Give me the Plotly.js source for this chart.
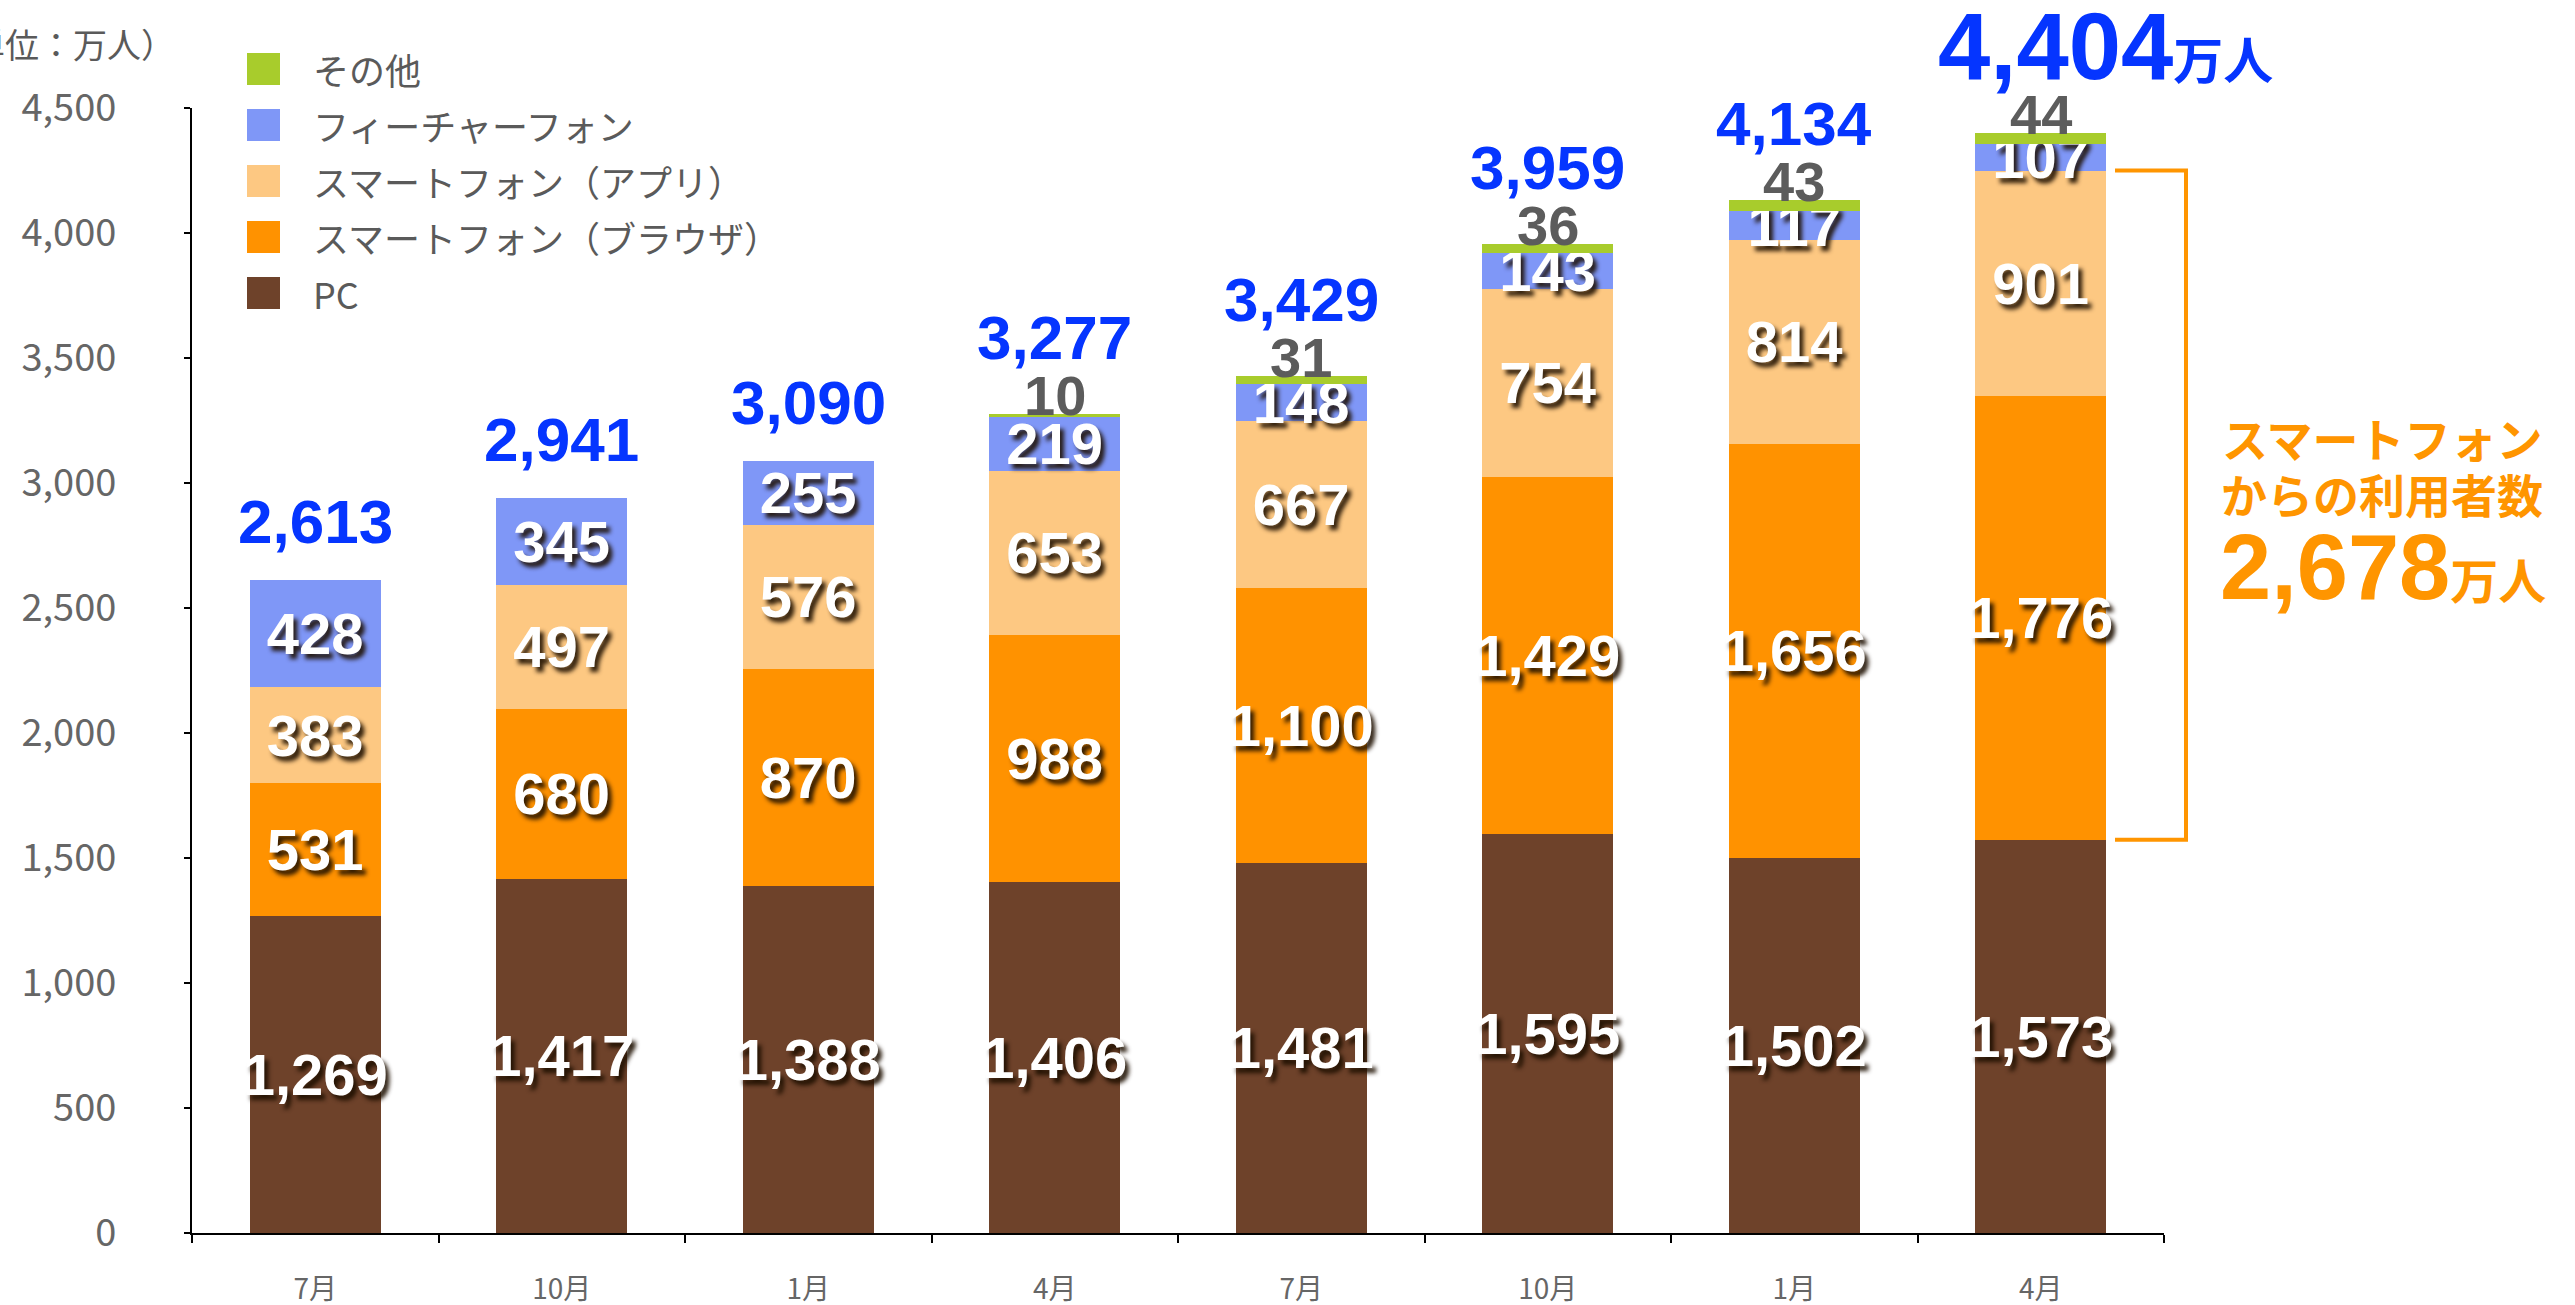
<!DOCTYPE html>
<html>
<head>
<meta charset="utf-8">
<script src="https://cdn.plot.ly/plotly-3.0.1.min.js"></script>
<style>
  html, body { margin: 0; padding: 0; background: #fff; }
</style>
</head>
<body>
<div id="chart" style="width:2575px;height:1305px;"></div>
<script>
// data (万人)
const months = ['7月', '10月', '1月', '4月', '7月', '10月', '1月', '4月'];
const pc = [1269, 1417, 1388, 1406, 1481, 1595, 1502, 1573];
const browser = [531, 680, 870, 988, 1100, 1429, 1656, 1776];
const app = [383, 497, 576, 653, 667, 754, 814, 901];
const feature = [428, 345, 255, 219, 148, 143, 117, 107];
const other = [0, 0, 0, 10, 31, 36, 43, 44];
const totals = [2613, 2941, 3090, 3277, 3429, 3959, 4134, 4404];
const smartTotal = 2678;

const seriesNames = ['PC', 'スマートフォン（ブラウザ）', 'スマートフォン（アプリ）', 'フィーチャーフォン', 'その他'];
const seriesColors = ['#6e422a', '#ff9200', '#fdc882', '#7f97f7', '#a8cc2c'];
const seriesValues = [pc, browser, app, feature, other];

const FONT = "'Noto Sans CJK JP', 'Noto Sans', sans-serif";
const NUMFONT = "'Liberation Sans', Arial, 'Noto Sans CJK JP', sans-serif";
const xs = months.map((m, i) => i);
const fmt = v => v.toLocaleString('en-US');

// plot box in pixels
const L = 192, R = 2164, T = 108, B = 1233;
const px2x = p => (p - L) / (R - L);
const py2y = p => (B - p) / (B - T);

const traces = seriesValues.map((vals, k) => ({
    type: 'bar',
    name: seriesNames[k],
    x: xs,
    y: vals,
    width: 0.53,
    marker: { color: seriesColors[k] },
    text: k < 4 ? vals.map(fmt) : vals.map(() => ''),
    textposition: 'inside',
    insidetextanchor: 'middle',
    textangle: 0,
    constraintext: 'none',
    cliponaxis: false,
    textfont: {
        family: NUMFONT, size: 58, color: '#ffffff', weight: 'bold',
        shadow: '4px 5px 4px rgba(30,15,0,0.9)'
    },
    hoverinfo: 'skip',
    showlegend: false
}));

const annotations = [];
const shapes = [];

// その他 labels and totals above each bar
months.forEach((m, i) => {
    if (other[i] > 0) {
        annotations.push({
            x: i, y: totals[i], xref: 'x', yref: 'y',
            text: fmt(other[i]), showarrow: false,
            yanchor: 'middle', yshift: 18,
            font: { family: NUMFONT, size: 56, color: '#5c5c5c', weight: 'bold' }
        });
    }
    const last = i === months.length - 1;
    annotations.push({
        x: i, y: totals[i], xref: 'x', yref: 'y',
        text: last ? fmt(totals[i]) + '<span style="font-size:50px">万人</span>' : fmt(totals[i]),
        showarrow: false, yanchor: 'middle',
        xshift: last ? 65 : 0,
        yshift: last ? 86 : (other[i] > 0 ? 76 : 58),
        font: { family: NUMFONT, size: last ? 94 : 62, color: '#0535ff', weight: 'bold' }
    });
});

// legend (top = その他)
for (let k = 4; k >= 0; k--) {
    const cy = 69 + (4 - k) * 56;
    shapes.push({
        type: 'rect', xref: 'paper', yref: 'paper',
        x0: px2x(247), x1: px2x(280), y0: py2y(cy + 16), y1: py2y(cy - 16),
        fillcolor: seriesColors[k], line: { width: 0 }
    });
    annotations.push({
        xref: 'paper', yref: 'paper', x: px2x(311), y: py2y(cy),
        xanchor: 'left', yanchor: 'middle', showarrow: false,
        text: seriesNames[k],
        font: { family: FONT, size: 36, color: '#5a5a5a' }
    });
}

// unit label
annotations.push({
    xref: 'paper', yref: 'paper', x: px2x(177), y: py2y(43),
    xanchor: 'right', yanchor: 'middle', showarrow: false,
    text: '（単位：万人）',
    font: { family: FONT, size: 34, color: '#5a5a5a' }
});

// bracket for smartphone users (last month)
const n = months.length - 1;
const yLow = pc[n], yHigh = pc[n] + browser[n] + app[n];
shapes.push({
    type: 'path', xref: 'paper', yref: 'y',
    path: 'M' + px2x(2115) + ',' + yHigh + ' L' + px2x(2186) + ',' + yHigh +
          ' L' + px2x(2186) + ',' + yLow + ' L' + px2x(2115) + ',' + yLow,
    line: { color: '#ff9500', width: 4 }
});

annotations.push({
    xref: 'paper', yref: 'paper', x: px2x(2382), y: py2y(437),
    xanchor: 'center', yanchor: 'middle', showarrow: false,
    text: 'スマートフォン',
    font: { family: FONT, size: 46, color: '#ff9500', weight: 'bold' }
});
annotations.push({
    xref: 'paper', yref: 'paper', x: px2x(2382), y: py2y(493),
    xanchor: 'center', yanchor: 'middle', showarrow: false,
    text: 'からの利用者数',
    font: { family: FONT, size: 46, color: '#ff9500', weight: 'bold' }
});
annotations.push({
    xref: 'paper', yref: 'paper', x: px2x(2383), y: py2y(567),
    xanchor: 'center', yanchor: 'middle', showarrow: false,
    text: fmt(smartTotal) + '<span style="font-size:48px">万人</span>',
    font: { family: NUMFONT, size: 92, color: '#ff9500', weight: 'bold' }
});

const layout = {
    width: 2575,
    height: 1305,
    autosize: false,
    margin: { l: L, r: 2575 - R, t: T, b: 1305 - B, pad: 0 },
    barmode: 'stack',
    showlegend: false,
    plot_bgcolor: '#ffffff',
    paper_bgcolor: '#ffffff',
    font: { family: FONT, color: '#666666' },
    xaxis: {
        range: [-0.5, months.length - 0.5],
        tickmode: 'array',
        tickvals: xs,
        ticktext: months,
        ticks: '',
        showline: true, linecolor: '#000', linewidth: 2,
        showgrid: false, zeroline: false,
        ticklabelstandoff: 30,
        tickfont: { family: FONT, size: 28, color: '#666666' },
        minor: {
            tickmode: 'array',
            tickvals: months.map((m, i) => i - 0.5).concat(months.length - 0.5),
            ticks: 'outside', ticklen: 8, tickwidth: 2, tickcolor: '#000',
            showgrid: false
        }
    },
    yaxis: {
        range: [0, 4500],
        dtick: 500,
        tickformat: ',d',
        ticks: 'outside', ticklen: 6, tickwidth: 2, tickcolor: '#000',
        showline: true, linecolor: '#000', linewidth: 2,
        showgrid: false, zeroline: false,
        ticklabelstandoff: 60,
        tickfont: { family: FONT, size: 38, color: '#666666' }
    },
    shapes: shapes,
    annotations: annotations
};

Plotly.newPlot('chart', traces, layout, { displayModeBar: false, staticPlot: true });
</script>
</body>
</html>
